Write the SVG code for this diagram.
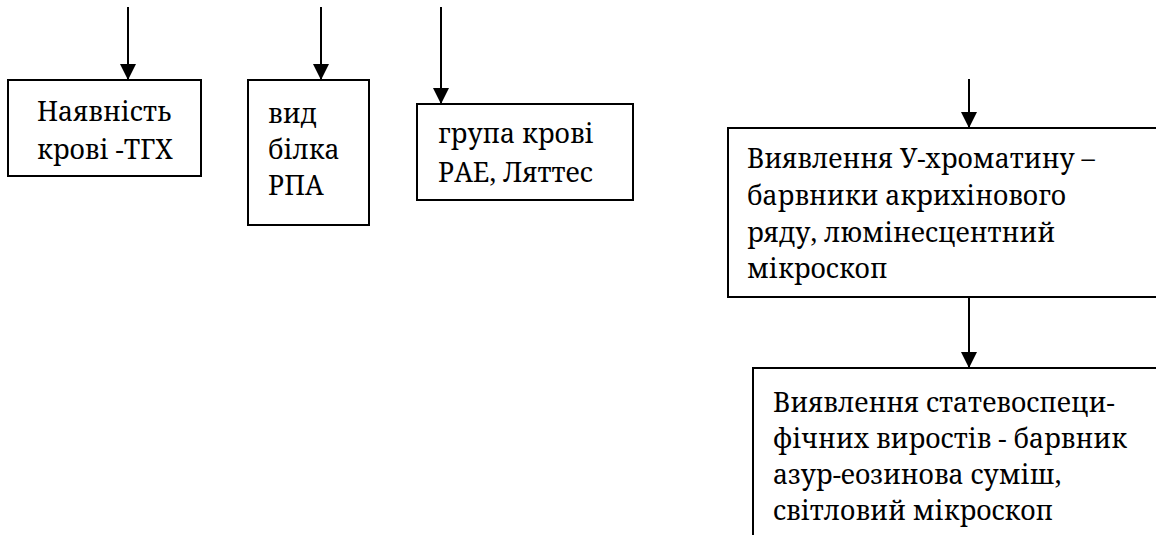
<svg xmlns="http://www.w3.org/2000/svg" width="1156" height="535" viewBox="0 0 1156 535">
<style>
.box{fill:#fff;stroke:#000;stroke-width:2}
.ln{stroke:#000;stroke-width:2;fill:none}
</style>
<defs>
<marker id="ah" markerUnits="userSpaceOnUse" markerWidth="16" markerHeight="16" viewBox="0 0 14 14" refX="14" refY="7" orient="auto">
<path d="M0,0 L14,7 L0,14 Z" fill="#000"/>
</marker>
</defs>
<rect width="1156" height="535" fill="#fff"/>
<g id="connectors">
<line class="ln" x1="128" y1="7" x2="128" y2="80" marker-end="url(#ah)"/>
<line class="ln" x1="321" y1="7" x2="321" y2="80" marker-end="url(#ah)"/>
<line class="ln" x1="441" y1="7" x2="441" y2="104" marker-end="url(#ah)"/>
<line class="ln" x1="969" y1="79" x2="969" y2="128" marker-end="url(#ah)"/>
<line class="ln" x1="969" y1="297" x2="969" y2="368" marker-end="url(#ah)"/>
</g>
<g font-family="Noto Serif, DejaVu Serif, serif" font-size="26.5" fill="#000">
<g id="node1">
<rect class="box" x="8" y="80" width="193" height="96"/>
<text x="37" y="121">Наявність</text>
<text x="37" y="159">крові -ТГХ</text>
</g>
<g id="node2">
<rect class="box" x="248" y="80" width="121" height="145"/>
<text x="268" y="123">вид</text>
<text x="268" y="159">білка</text>
<text x="268" y="195">РПА</text>
</g>
<g id="node3">
<rect class="box" x="417" y="104" width="216" height="96"/>
<text x="438" y="143">група крові</text>
<text x="438" y="182">РАЕ, Ляттес</text>
</g>
<g id="node4">
<rect class="box" x="728" y="128" width="440" height="169"/>
<text x="747" y="168">Виявлення У-хроматину –</text>
<text x="747" y="205">барвники акрихінового</text>
<text x="747" y="242">ряду, люмінесцентний</text>
<text x="747" y="278">мікроскоп</text>
</g>
<g id="node5">
<path class="ln" d="M753,540 L753,368 L1160,368"/>
<text x="773" y="412">Виявлення статевоспеци-</text>
<text x="773" y="448">фічних виростів - барвник</text>
<text x="773" y="484">азур-еозинова суміш,</text>
<text x="773" y="520">світловий мікроскоп</text>
</g>
</g>
</svg>
